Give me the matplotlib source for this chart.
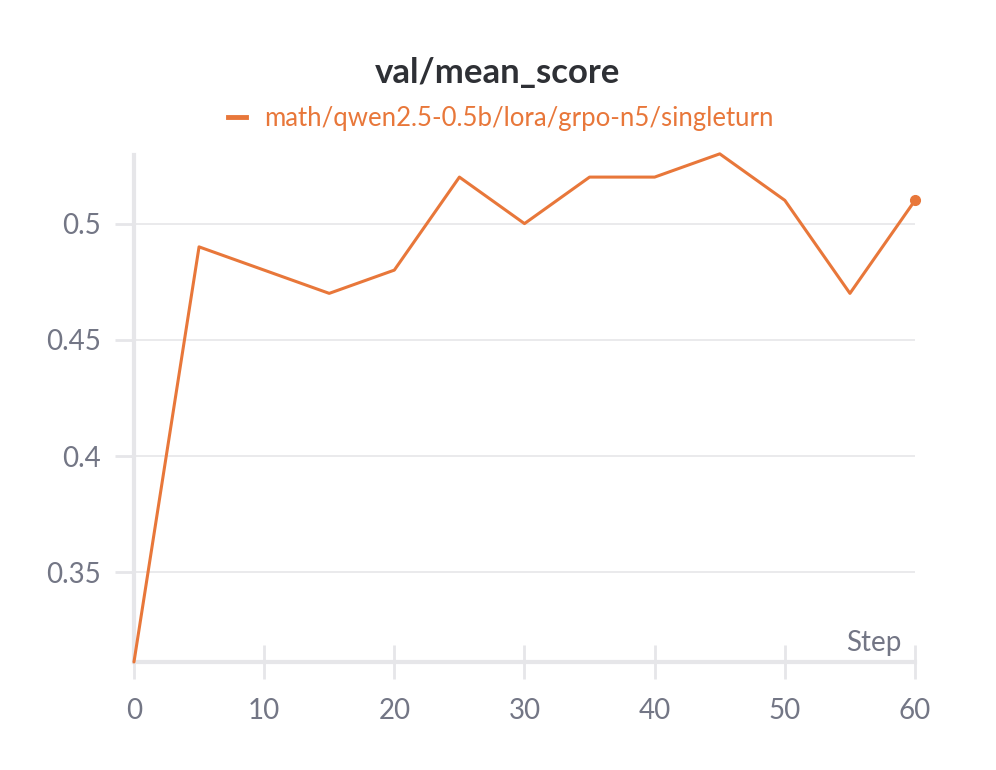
import matplotlib.pyplot as plt
from matplotlib.lines import Line2D

# val/mean_score per step
steps = [0, 5, 10, 15, 20, 25, 30, 35, 40, 45, 50, 55, 60]
scores = [0.3115, 0.49, 0.48, 0.47, 0.48, 0.52, 0.50, 0.52, 0.52, 0.53, 0.51, 0.47, 0.51]
run_name = 'math/qwen2.5-0.5b/lora/grpo-n5/singleturn'

line_color = '#e8773a'
grid_color = '#e6e6e9'
text_color = '#737685'

plt.rcParams['font.family'] = ['Lato', 'DejaVu Sans']

fig = plt.figure(figsize=(9.96, 7.7), dpi=100)
ax = fig.add_axes([0.1345, 0.1403, 0.7842, 0.6584])

ax.plot(steps, scores, color=line_color, lw=2.2, solid_capstyle='round',
        zorder=3, clip_on=False)
ax.plot(steps[-1], scores[-1], 'o', color=line_color, ms=7, zorder=4, clip_on=False)

ax.set_xlim(0, 60)
ax.set_ylim(0.3115, 0.5295)
ax.set_xticks(range(0, 61, 10))
ax.set_yticks([0.35, 0.4, 0.45, 0.5])
ax.set_yticklabels(['0.35', '0.4', '0.45', '0.5'])

ax.grid(axis='y', color=grid_color, lw=1.2)
ax.set_axisbelow(True)
for side in ['top', 'right']:
    ax.spines[side].set_visible(False)
for side in ['left', 'bottom']:
    ax.spines[side].set_color(grid_color)
    ax.spines[side].set_linewidth(3)

ax.tick_params(axis='both', colors=grid_color, labelcolor=text_color, labelsize=20, width=2)
ax.tick_params(axis='x', direction='inout', length=24, pad=14)
ax.tick_params(axis='y', length=14, pad=10)

ax.text(0.983, 0.012, 'Step', transform=ax.transAxes, ha='right', va='bottom',
        color=text_color, fontsize=20)

fig.text(0.5, 0.905, 'val/mean_score', ha='center', va='center',
         fontsize=25, fontweight='bold', color='#2e3035')

handle = Line2D([], [], color=line_color, lw=3.5)
fig.legend([handle], [run_name], loc='center', bbox_to_anchor=(0.503, 0.846),
           frameon=False, fontsize=18.5, labelcolor=line_color,
           handlelength=0.7, handletextpad=0.7)

fig.savefig('out.png', dpi=100)
